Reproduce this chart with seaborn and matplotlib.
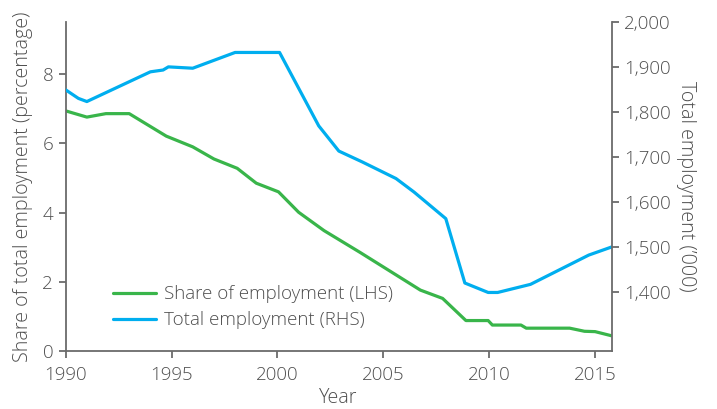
import matplotlib
matplotlib.use("Agg")
import matplotlib.pyplot as plt
import seaborn as sns
import pandas as pd
from matplotlib.ticker import FuncFormatter

# ---- data ----
years_share = [1990, 1991, 1991.9, 1993, 1994.75, 1996.0, 1997, 1998.1, 1999, 2000.05,
               2001, 2002.2, 2003.9, 2006.75, 2007.8, 2008.9, 2009.95, 2010.15, 2011.5,
               2011.75, 2013.8, 2014.5, 2015, 2015.78]
share = [6.94, 6.76, 6.86, 6.86, 6.21, 5.90, 5.55, 5.28, 4.85, 4.60,
         4.01, 3.48, 2.85, 1.76, 1.52, 0.88, 0.88, 0.75, 0.75,
         0.66, 0.66, 0.57, 0.56, 0.44]

years_total = [1990, 1990.6, 1991, 1994, 1994.6, 1994.85, 1996.0, 1998, 2000.1, 2001.95,
               2002.9, 2004.0, 2005.6, 2006.45, 2007.95, 2008.85, 2009.95, 2010.4,
               2011.95, 2014.7, 2015.78]
total = [1850, 1831, 1824, 1890, 1894, 1901, 1898, 1933, 1933, 1770,
         1714, 1690, 1653, 1623, 1564, 1421, 1400, 1400,
         1418, 1483, 1501]

x_ticks = [1990, 1995, 2000, 2005, 2010, 2015]
left_ticks = [0, 2, 4, 6, 8]
right_ticks = [1400, 1500, 1600, 1700, 1800, 1900, 2000]

label_share = "Share of employment (LHS)"
label_total = "Total employment (RHS)"

GREEN = "#39B54A"
BLUE = "#00AEEF"
TEXT = "#4f4f4f"
SPINE = "#6b6b6b"
FS = 13.5
LFS = 14.2

sns.set_theme(style="ticks")
plt.rcParams["font.family"] = ["Open Sans", "DejaVu Sans"]
plt.rcParams["font.size"] = FS
plt.rcParams["font.weight"] = "light"
plt.rcParams["axes.labelweight"] = "light"

df_share = pd.DataFrame({"year": years_share, "value": share})
df_total = pd.DataFrame({"year": years_total, "value": total})

fig = plt.figure(figsize=(7.17, 4.09), dpi=100)
ax = fig.add_axes([0.0916, 0.1418, 0.7614, 0.8037])
ax2 = ax.twinx()

sns.lineplot(data=df_share, x="year", y="value", ax=ax, color=GREEN, lw=2.3,
             label=label_share, legend=False)
sns.lineplot(data=df_total, x="year", y="value", ax=ax2, color=BLUE, lw=2.3,
             label=label_total, legend=False)

ax.set_xlim(1990, 2015.78)
ax.set_ylim(0, 9.5)
ax2.set_ylim(1270, 2000)
ax.set_xticks(x_ticks)
ax.set_yticks(left_ticks)
ax2.set_yticks(right_ticks)
ax2.yaxis.set_major_formatter(FuncFormatter(lambda v, p: f"{int(v):,}"))

ax.set_xlabel("Year", color=TEXT, fontsize=LFS, labelpad=3)
ax.set_ylabel("Share of total employment (percentage)", color=TEXT, fontsize=LFS, labelpad=7)
ax2.set_ylabel("Total employment (\u2019000)", color=TEXT, fontsize=LFS, rotation=270,
               labelpad=18)
ax2.set_xlabel("")

for a in (ax, ax2):
    for s in a.spines.values():
        s.set_color(SPINE)
        s.set_linewidth(1.3)
    a.spines["top"].set_visible(False)
    a.tick_params(colors=SPINE, labelcolor=TEXT, labelsize=FS, length=5, width=1.3, pad=4)
ax.spines["right"].set_visible(False)
ax2.spines["left"].set_visible(False)
ax2.spines["bottom"].set_visible(False)
ax.tick_params(axis="x", pad=6)

h1, l1 = ax.get_legend_handles_labels()
h2, l2 = ax2.get_legend_handles_labels()
leg = ax2.legend(h1 + h2, l1 + l2, loc="lower left", bbox_to_anchor=(0.055, 0.015),
                 frameon=False, fontsize=13.5, handlelength=2.3, handletextpad=0.45,
                 labelspacing=0.42)
for t in leg.get_texts():
    t.set_color(TEXT)

fig.savefig("out.png", dpi=100)
